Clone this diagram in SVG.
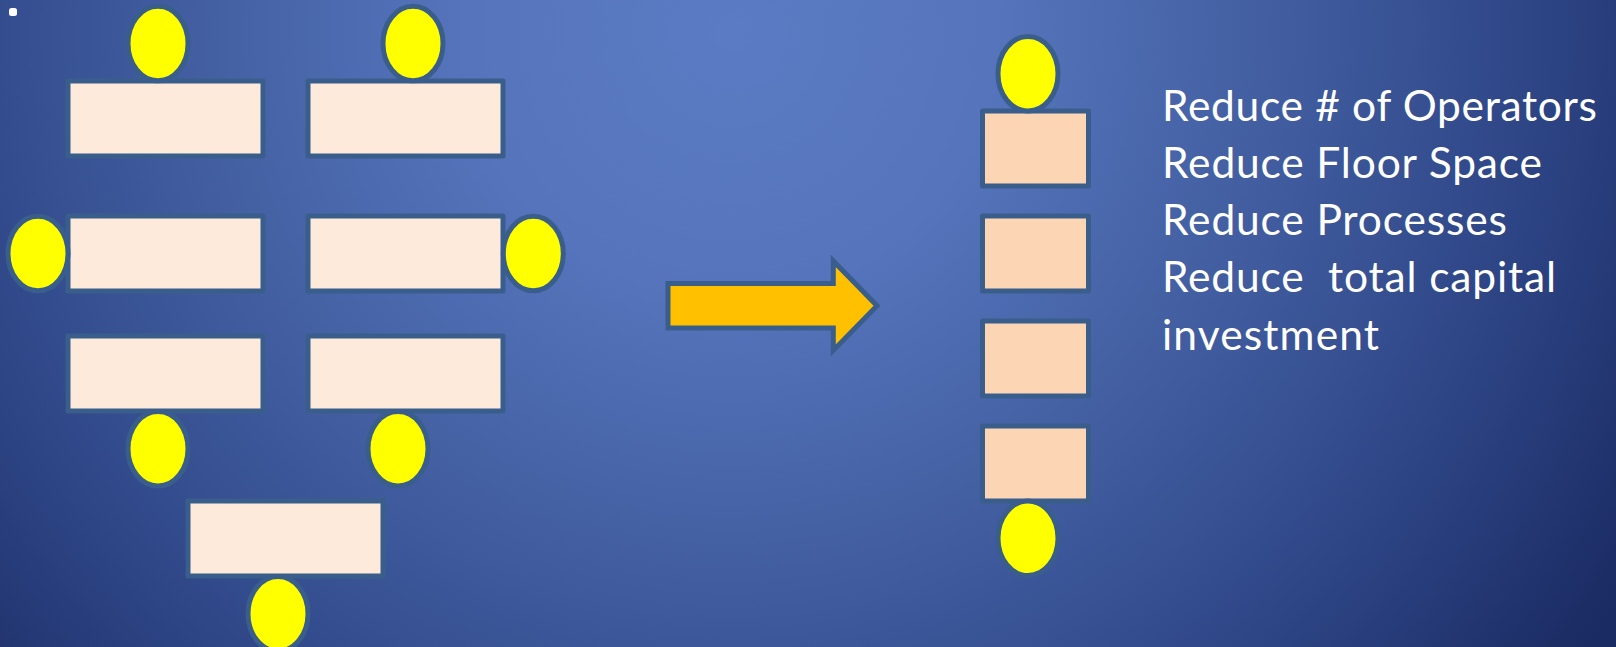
<svg xmlns="http://www.w3.org/2000/svg" width="1616" height="647" viewBox="0 0 1616 647">
  <defs>
    <radialGradient id="bg" gradientUnits="userSpaceOnUse" cx="730" cy="30" r="1060">
      <stop offset="0" stop-color="#5B7BC4"/>
      <stop offset="0.25" stop-color="#5574BB"/>
      <stop offset="0.55" stop-color="#3F5B9D"/>
      <stop offset="0.78" stop-color="#2C4383"/>
      <stop offset="1" stop-color="#1A2A62"/>
    </radialGradient>
    <style>
      .op { fill: #FFFF00; stroke: #3A5E8C; stroke-width: 5; }
      .st { fill: #FDEADA; stroke: #3A5E8C; stroke-width: 5; stroke-linejoin: round; }
      .cell { fill: #FCD5B5; stroke: #3A5E8C; stroke-width: 5; stroke-linejoin: round; }
      .flow { fill: #FFC000; stroke: #3A5E8C; stroke-width: 5; stroke-linejoin: miter; stroke-miterlimit: 10; }
      .txt { font-family: Lato, "Open Sans", "Liberation Sans", sans-serif; font-size: 42.5px; fill: #FFFFFF; white-space: pre; }
    </style>
  </defs>

  <!-- backdrop -->
  <rect x="0" y="0" width="1616" height="647" fill="url(#bg)"/>
  <rect id="bullet" x="9" y="8" width="8" height="8" rx="2.5" fill="#FFFFFF"/>

  <!-- original layout: seven stations in a funnel -->
  <g id="station-1"><rect class="st" x="68" y="81" width="195" height="75"/></g>
  <g id="station-2"><rect class="st" x="308" y="81" width="195" height="75"/></g>
  <g id="station-3"><rect class="st" x="68" y="216" width="195" height="75"/></g>
  <g id="station-4"><rect class="st" x="308" y="216" width="195" height="75"/></g>
  <g id="station-5"><rect class="st" x="68" y="336" width="195" height="75"/></g>
  <g id="station-6"><rect class="st" x="308" y="336" width="195" height="75"/></g>
  <g id="station-7"><rect class="st" x="188" y="501" width="195" height="75"/></g>

  <g id="operator-1"><ellipse class="op" cx="158" cy="43.5" rx="30" ry="37.3"/></g>
  <g id="operator-2"><ellipse class="op" cx="413" cy="43.5" rx="30" ry="37.3"/></g>
  <g id="operator-3"><ellipse class="op" cx="38" cy="253.5" rx="30" ry="37.3"/></g>
  <g id="operator-4"><ellipse class="op" cx="533.3" cy="253.5" rx="30" ry="37.3"/></g>
  <g id="operator-5"><ellipse class="op" cx="158" cy="448.7" rx="30" ry="37.3"/></g>
  <g id="operator-6"><ellipse class="op" cx="398" cy="448.7" rx="30" ry="37.3"/></g>
  <g id="operator-7"><ellipse class="op" cx="278" cy="613.8" rx="30" ry="37.3"/></g>

  <!-- transition arrow -->
  <g id="connectors">
    <path class="flow" d="M668,283.5 H833.3 V261 L877,305.7 L833.3,350.4 V328 H668 Z"/>
  </g>

  <!-- compact cell -->
  <g id="cell-1"><rect class="cell" x="982.5" y="111" width="106" height="75"/></g>
  <g id="cell-2"><rect class="cell" x="982.5" y="216" width="106" height="75"/></g>
  <g id="cell-3"><rect class="cell" x="982.5" y="321" width="106" height="75"/></g>
  <g id="cell-4"><rect class="cell" x="982.5" y="426" width="106" height="75"/></g>
  <g id="cell-operator-1"><ellipse class="op" cx="1028" cy="73.7" rx="30" ry="37.3"/></g>
  <g id="cell-operator-2"><ellipse class="op" cx="1028" cy="538.3" rx="30" ry="37.3"/></g>

  <!-- benefits list -->
  <g id="benefits" class="txt">
    <text x="1162" y="120.7" textLength="435" lengthAdjust="spacing">Reduce # of Operators</text>
    <text x="1162" y="177.7" textLength="380" lengthAdjust="spacing">Reduce Floor Space</text>
    <text x="1162" y="235" textLength="345" lengthAdjust="spacing">Reduce Processes</text>
    <text x="1162" y="292" textLength="394" lengthAdjust="spacing" xml:space="preserve">Reduce  total capital</text>
    <text x="1162" y="350" textLength="217" lengthAdjust="spacing">investment</text>
  </g>
</svg>
